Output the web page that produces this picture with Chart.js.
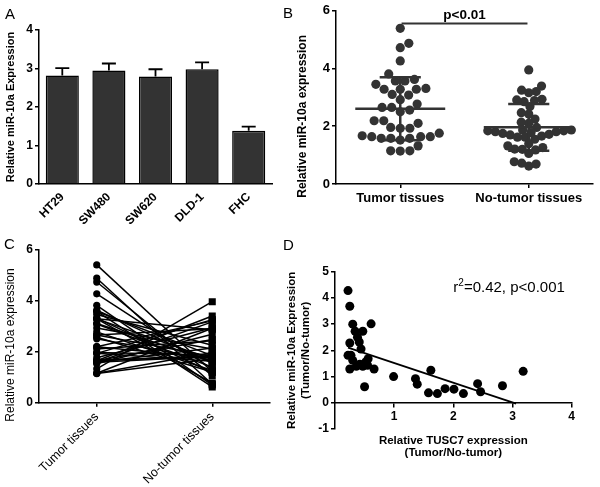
<!DOCTYPE html>
<html>
<head>
<meta charset="utf-8">
<script src="https://cdn.jsdelivr.net/npm/chart.js@4.4.0/dist/chart.umd.min.js"></script>
<style>
  body { margin: 0; background: #fff; }
  #wrap { position: relative; width: 600px; height: 487px; overflow: hidden; font-family: 'Liberation Sans', Arial, sans-serif; }
  canvas { position: absolute; }
  .tag { position: absolute; font-size: 15px; color: #000; line-height: 15px; }
</style>
</head>
<body>
<div id="wrap">
  <canvas id="chartA" width="300" height="240" style="left:0;top:0"></canvas>
  <canvas id="chartB" width="310" height="240" style="left:290px;top:0"></canvas>
  <canvas id="chartC" width="300" height="247" style="left:0;top:240px"></canvas>
  <canvas id="chartD" width="320" height="247" style="left:280px;top:240px"></canvas>
  <div class="tag" style="left:5px;top:6px">A</div>
  <div class="tag" style="left:283px;top:5px">B</div>
  <div class="tag" style="left:4px;top:236px">C</div>
  <div class="tag" style="left:283px;top:237px">D</div>
</div>
<script>
// panel A - cell lines
const cellLines = ['HT29', 'SW480', 'SW620', 'DLD-1', 'FHC'];
const cellMeans = [2.82, 2.95, 2.79, 2.98, 1.38];
const cellErrors = [0.19, 0.18, 0.19, 0.18, 0.11];

// panel B / C - tissues
const groupNames = ['Tumor tissues', 'No-tumor tissues'];
const tumorValues = [5.39, 4.87, 4.72, 4.26, 3.81, 3.62, 3.57, 3.57, 3.45, 3.31,
  3.28, 3.28, 3.28, 3.10, 3.08, 2.92, 2.77, 2.65, 2.65, 2.56,
  2.50, 2.19, 2.19, 2.10, 1.96, 1.93, 1.93, 1.76, 1.67, 1.64,
  1.64, 1.64, 1.58, 1.58, 1.58, 1.52, 1.32, 1.15, 1.15, 1.14];
const normalValues = [3.95, 3.39, 3.20, 3.25, 3.16, 2.93, 2.89, 2.85, 2.91, 2.68,
  2.42, 2.47, 2.25, 2.10, 2.14, 1.96, 1.87, 1.84, 1.81, 1.75,
  1.70, 1.62, 1.55, 1.62, 1.66, 1.72, 1.78, 1.81, 1.84, 1.87,
  1.32, 1.21, 1.18, 1.06, 1.20, 1.26, 1.39, 0.72, 0.62, 0.69, 0.77];
// non-tumor value for each tumor sample (same order as tumorValues)
const normalPaired = [1.21, 0.72, 1.06, 1.32, 0.69, 1.55, 0.62, 1.84, 2.25, 1.18,
  1.70, 0.77, 2.85, 1.62, 1.39, 2.10, 1.26, 1.81, 2.89, 1.20,
  1.66, 3.20, 1.75, 2.42, 1.87, 3.25, 1.62, 2.93, 1.78, 3.39,
  2.47, 1.84, 2.14, 3.16, 1.81, 2.68, 3.95, 1.96, 2.91, 1.72];

// panel D - correlation
const tusc7Ratio = [0.22, 0.25, 0.25, 0.30, 0.34, 0.38, 0.41, 0.44, 0.47, 0.61,
  0.22, 0.27, 0.30, 0.25, 0.36, 0.42, 0.47, 0.52, 0.56, 0.55,
  0.66, 0.50, 0.99, 1.36, 1.39, 1.62, 1.58, 1.73, 1.86, 2.01,
  2.17, 2.41, 2.46, 2.83, 3.18];
const mirRatio = [4.28, 3.68, 2.28, 3.00, 2.73, 2.50, 2.32, 2.05, 2.73, 3.01,
  1.81, 1.81, 1.62, 1.29, 1.39, 1.47, 1.39, 1.56, 1.68, 1.43,
  1.29, 0.61, 1.00, 0.92, 0.71, 1.24, 0.38, 0.35, 0.54, 0.52,
  0.35, 0.73, 0.42, 0.65, 1.20];
// fitted line as drawn in the figure (ends)
const fitX = [0.22, 3.06];
const fitY = [2.10, -0.03];
const statLabel = ['r', '2', '=0.42, p<0.001'];
const sigLabel = 'p<0.01';

Chart.defaults.font.family = "'Liberation Sans', Arial, sans-serif";
Chart.defaults.color = '#000';

const axisGrid = { drawOnChartArea: false, color: '#000', tickLength: 4, lineWidth: 1.5 };
const axisBorder = { color: '#000', width: 1.5 };
const boldTicks = (size) => ({ color: '#000', font: { weight: 'bold', size: size } });

// rotated y title, centred on the plot with an optional shift
const sideTitle = {
  id: 'sideTitle',
  afterDraw(chart, args, opts) {
    const { ctx, chartArea } = chart;
    ctx.save();
    ctx.translate(opts.x, (chartArea.top + chartArea.bottom) / 2 + opts.shift);
    ctx.rotate(-Math.PI / 2);
    ctx.font = opts.font;
    ctx.fillStyle = '#000';
    ctx.textAlign = 'center';
    ctx.textBaseline = 'middle';
    ctx.fillText(opts.text, 0, 0);
    ctx.restore();
  }
};

// ---------- A ----------
const errorBars = {
  id: 'errorBars',
  afterDatasetsDraw(chart) {
    const { ctx, scales: { x, y } } = chart;
    ctx.save();
    ctx.strokeStyle = '#000';
    ctx.lineWidth = 1.8;
    cellMeans.forEach((m, i) => {
      const px = x.getPixelForValue(i);
      const top = y.getPixelForValue(m + cellErrors[i]);
      ctx.beginPath();
      ctx.moveTo(px, y.getPixelForValue(m));
      ctx.lineTo(px, top);
      ctx.moveTo(px - 7, top);
      ctx.lineTo(px + 7, top);
      ctx.stroke();
    });
    ctx.restore();
  }
};

new Chart(document.getElementById('chartA'), {
  type: 'bar',
  data: {
    labels: cellLines,
    datasets: [{ data: cellMeans, backgroundColor: '#333', borderColor: '#000', borderWidth: 1.5,
      barPercentage: 0.71, categoryPercentage: 1 }]
  },
  options: {
    responsive: false, animation: false,
    layout: { padding: { top: 30, right: 28, left: 0, bottom: 0 } },
    plugins: { legend: { display: false }, tooltip: { enabled: false } },
    scales: {
      x: {
        grid: { display: false }, border: axisBorder,
        ticks: { ...boldTicks(12), minRotation: 45, maxRotation: 45, padding: -2 },
        afterFit(s) { s.height = 56; }
      },
      y: {
        min: 0, max: 4,
        ticks: { ...boldTicks(12), stepSize: 1, padding: 2 },
        grid: axisGrid, border: axisBorder,
        title: { display: true, text: 'Relative miR-10a Expression', color: '#000',
          font: { weight: 'bold', size: 11 }, padding: { top: 4, bottom: 0 } },
        afterFit(s) { s.width = 39; }
      }
    }
  },
  plugins: [errorBars]
});

// ---------- B ----------
// simple beeswarm: spread dots sideways so they do not overlap
function swarm(values, center, pxPerX, pxPerY, dia) {
  const order = values.map((v, i) => i).sort((a, b) => values[a] - values[b]);
  const placed = [];
  const out = new Array(values.length);
  order.forEach(i => {
    const py = values[i] * pxPerY;
    const cands = [0];
    placed.forEach(p => {
      const dy = Math.abs(p.py - py);
      if (dy < dia) {
        const dx = Math.sqrt(dia * dia - dy * dy);
        cands.push(p.px + dx, p.px - dx);
      }
    });
    cands.sort((a, b) => Math.abs(a) - Math.abs(b));
    let px = 0;
    for (const c of cands) {
      if (placed.every(p => (p.px - c) ** 2 + (p.py - py) ** 2 >= dia * dia - 0.01)) { px = c; break; }
    }
    placed.push({ px, py });
    out[i] = { x: center + px / pxPerX, y: values[i] };
  });
  return out;
}

function meanSd(arr) {
  const m = arr.reduce((a, b) => a + b, 0) / arr.length;
  const sd = Math.sqrt(arr.reduce((a, b) => a + (b - m) ** 2, 0) / (arr.length - 1));
  return [m, sd];
}

function seg(x1, y1, x2, y2, color, width) {
  return { data: [{ x: x1, y: y1 }, { x: x2, y: y2 }], showLine: true, pointRadius: 0,
    borderColor: color, borderWidth: width };
}

const bPxX = 257 / 2, bPxY = 173.3 / 6;
const summarySegs = [];
[tumorValues, normalValues].forEach((vals, g) => {
  const [m, sd] = meanSd(vals);
  const cx = g + 1;
  summarySegs.push(seg(cx - 0.35, m, cx + 0.35, m, '#333', 2.5));
  summarySegs.push(seg(cx, m - sd, cx, m + sd, '#333', 2.5));
  summarySegs.push(seg(cx - 0.16, m + sd, cx + 0.16, m + sd, '#333', 2.5));
  summarySegs.push(seg(cx - 0.16, m - sd, cx + 0.16, m - sd, '#333', 2.5));
});

const sigBracket = {
  id: 'sigBracket',
  afterDatasetsDraw(chart) {
    const { ctx, scales: { x, y } } = chart;
    const py = y.getPixelForValue(5.56);
    ctx.save();
    ctx.strokeStyle = '#333';
    ctx.lineWidth = 2;
    ctx.beginPath();
    ctx.moveTo(x.getPixelForValue(1.01), py);
    ctx.lineTo(x.getPixelForValue(1.99), py);
    ctx.stroke();
    ctx.fillStyle = '#000';
    ctx.font = "bold 13.5px 'Liberation Sans', Arial, sans-serif";
    ctx.textAlign = 'center';
    ctx.textBaseline = 'alphabetic';
    ctx.fillText(sigLabel, x.getPixelForValue(1.5), py - 4);
    ctx.restore();
  }
};

new Chart(document.getElementById('chartB'), {
  type: 'scatter',
  data: {
    datasets: [
      ...summarySegs,
      { data: swarm(tumorValues, 1, bPxX, bPxY, 9.6), pointRadius: 4.6, pointBackgroundColor: '#333', pointBorderWidth: 0 },
      { data: swarm(normalValues, 2, bPxX, bPxY, 7.6), pointRadius: 4.6, pointBackgroundColor: '#333', pointBorderWidth: 0 }
    ]
  },
  options: {
    responsive: false, animation: false,
    layout: { padding: { top: 10.7, right: 7, left: 0, bottom: 0 } },
    plugins: {
      legend: { display: false }, tooltip: { enabled: false },
      sideTitle: { text: 'Relative miR-10a expression', x: 13, shift: 19,
        font: "bold 12px 'Liberation Sans', Arial, sans-serif" }
    },
    scales: {
      x: {
        type: 'linear', min: 0.5, max: 2.5,
        afterBuildTicks(s) { s.ticks = [{ value: 1 }, { value: 2 }]; },
        ticks: { ...boldTicks(13), maxRotation: 0, minRotation: 0, padding: 3,
          callback: (v) => groupNames[Math.round(v) - 1] },
        grid: axisGrid, border: axisBorder,
        afterFit(s) { s.height = 56; }
      },
      y: {
        min: 0, max: 6,
        ticks: { ...boldTicks(13), stepSize: 2, padding: 2 },
        grid: axisGrid, border: axisBorder,
        afterFit(s) { s.width = 46; }
      }
    }
  },
  plugins: [sigBracket, sideTitle]
});

// ---------- C ----------
const pairSets = tumorValues.map((t, i) => ({
  data: [{ x: 1, y: t }, { x: 2, y: normalPaired[i] }],
  showLine: true, borderColor: '#000', borderWidth: 1.5,
  pointStyle: ['circle', 'rect'], pointRadius: [3.6, 5],
  pointBackgroundColor: '#000', pointBorderWidth: 0
}));

new Chart(document.getElementById('chartC'), {
  type: 'scatter',
  data: { datasets: pairSets },
  options: {
    responsive: false, animation: false,
    layout: { padding: { top: 9.3, right: 30, left: 0, bottom: 0 } },
    plugins: {
      legend: { display: false }, tooltip: { enabled: false },
      sideTitle: { text: 'Relative miR-10a expression', x: 11, shift: 19,
        font: "12px 'Liberation Sans', Arial, sans-serif" }
    },
    scales: {
      x: {
        type: 'linear', min: 0.5, max: 2.5,
        afterBuildTicks(s) { s.ticks = [{ value: 1 }, { value: 2 }]; },
        ticks: { color: '#000', font: { size: 12.5 }, minRotation: 45, maxRotation: 45, padding: 3,
          callback: (v) => groupNames[Math.round(v) - 1] },
        grid: axisGrid, border: axisBorder,
        afterFit(s) { s.height = 84.3; }
      },
      y: {
        min: 0, max: 6,
        ticks: { ...boldTicks(12), stepSize: 2, padding: 2 },
        grid: axisGrid, border: axisBorder,
        afterFit(s) { s.width = 39; }
      }
    }
  },
  plugins: [sideTitle]
});

// ---------- D ----------
const dText = {
  id: 'dText',
  afterDraw(chart) {
    const { ctx, chartArea, scales: { x, y } } = chart;
    ctx.save();
    ctx.fillStyle = '#000';
    // x axis title under the plot
    ctx.font = "bold 11.5px 'Liberation Sans', Arial, sans-serif";
    ctx.textAlign = 'center';
    const cx = (chartArea.left + chartArea.right) / 2;
    ctx.fillText('Relative TUSC7 expression', cx, chartArea.bottom + 15);
    ctx.fillText('(Tumor/No-tumor)', cx, chartArea.bottom + 27);
    // stats label
    ctx.textAlign = 'left';
    ctx.textBaseline = 'alphabetic';
    let px = x.getPixelForValue(2.0);
    const py = y.getPixelForValue(4.22);
    ctx.font = "15px 'Liberation Sans', Arial, sans-serif";
    ctx.fillText(statLabel[0], px, py);
    px += ctx.measureText(statLabel[0]).width;
    ctx.font = "10px 'Liberation Sans', Arial, sans-serif";
    ctx.fillText(statLabel[1], px, py - 6);
    px += ctx.measureText(statLabel[1]).width;
    ctx.font = "15px 'Liberation Sans', Arial, sans-serif";
    ctx.fillText(statLabel[2], px, py);
    ctx.restore();
  }
};

new Chart(document.getElementById('chartD'), {
  type: 'scatter',
  data: {
    datasets: [
      seg(fitX[0], fitY[0], fitX[1], fitY[1], '#000', 1.8),
      { data: tusc7Ratio.map((v, i) => ({ x: v, y: mirRatio[i] })), pointRadius: 4.5,
        pointBackgroundColor: '#000', pointBorderWidth: 0 }
    ]
  },
  options: {
    responsive: false, animation: false,
    layout: { padding: { top: 31.7, right: 28.3, left: 0, bottom: 58 } },
    plugins: { legend: { display: false }, tooltip: { enabled: false } },
    scales: {
      x: {
        type: 'linear', min: 0, max: 4, position: { y: 0 },
        afterBuildTicks(s) { s.ticks = [1, 2, 3, 4].map(v => ({ value: v })); },
        ticks: { ...boldTicks(12), maxRotation: 0, padding: 3 },
        grid: axisGrid, border: axisBorder
      },
      y: {
        min: -1, max: 5,
        ticks: { ...boldTicks(12), stepSize: 1, padding: 2 },
        grid: axisGrid, border: axisBorder,
        title: { display: true, text: ['Relative miR-10a Expression', '(Tumor/No-tumor)'], color: '#000',
          font: { weight: 'bold', size: 11.5 }, padding: { top: 5, bottom: 0 } },
        afterFit(s) { s.width = 55; }
      }
    }
  },
  plugins: [dText]
});
</script>
</body>
</html>
